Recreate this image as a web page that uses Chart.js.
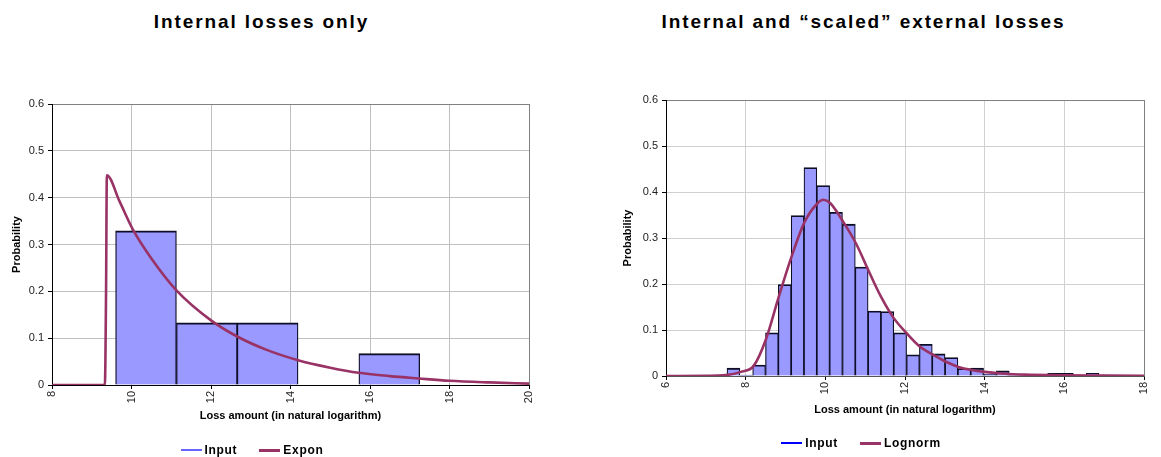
<!DOCTYPE html>
<html>
<head>
<meta charset="utf-8">
<title>Loss distributions</title>
<script src="https://cdn.jsdelivr.net/npm/chart.js@4"></script>
<style>
  body { margin: 0; background: #fff; }
  #wrap { position: relative; width: 1161px; height: 457px; font-family: 'Liberation Sans', Arial, sans-serif; color: #000; }
  canvas { position: absolute; top: 0; }
  .title { position: absolute; top: 12px; font-size: 19px; font-weight: bold; letter-spacing: 1.9px; line-height: 19px; text-align: center; white-space: nowrap; }
  .legend { position: absolute; display: flex; justify-content: center; align-items: center; font-size: 12px; font-weight: bold; letter-spacing: 0.7px; line-height: 14px; }
  .legend-item { display: flex; align-items: center; margin: 0 11px; }
  .legend-line { display: inline-block; width: 21px; margin-right: 3px; }
</style>
</head>
<body>
<div id="wrap">
  <div class="title" style="left:0; width:523px;">Internal losses only</div>
  <div class="title" style="left:580px; width:567px;">Internal and “scaled” external losses</div>

  <canvas id="chartInt" width="580" height="457" style="left:0;"></canvas>
  <canvas id="chartExt" width="581" height="457" style="left:580px;"></canvas>

  <div class="legend" id="legendInt" style="left:0; width:504px; top:443px;"></div>
  <div class="legend" id="legendExt" style="left:580px; width:562px; top:436px;"></div>
</div>

<script>
/* ---- Dados: perdas internas (histograma + ajuste exponencial) ---- */
const intBins = [10.365, 11.895, 13.425, 14.955, 16.485];   // centro de cada classe
const intProb = [0.329, 0.133, 0.133, 0, 0.067];
const exponX  = [8, 9.33, 9.36, 9.38, 9.7, 10.04, 10.5, 11.13, 12.0, 12.67, 13.4, 14.19, 15.0, 15.71, 16.5, 17.22, 18.0, 19.0, 20.0];
const exponY  = [0, 0, 0.2, 0.448, 0.392, 0.331, 0.27, 0.202, 0.138, 0.103, 0.075, 0.053, 0.037, 0.026, 0.019, 0.014, 0.009, 0.0055, 0.003];

/* ---- Dados: internas + externas escaladas (histograma + lognormal) ---- */
const extBins = [7.371, 7.693, 8.015, 8.337, 8.659, 8.981, 9.303, 9.625, 9.947, 10.269,
                 10.591, 10.913, 11.235, 11.557, 11.879, 12.201, 12.523, 12.845, 13.167, 13.489,
                 13.811, 14.133, 14.455, 14.777, 15.099, 15.421, 15.743, 16.065, 16.387, 16.709, 17.031];
const extProb = [0.002, 0.017, 0.002, 0.024, 0.094, 0.199, 0.349, 0.453, 0.414, 0.356,
                 0.330, 0.237, 0.141, 0.140, 0.094, 0.046, 0.069, 0.048, 0.040, 0.016,
                 0.017, 0.004, 0.011, 0.004, 0.001, 0, 0.006, 0.006, 0.001, 0.006, 0.002];
const lognX = [6, 7.0, 7.5, 7.88, 8.2, 8.51, 8.83, 9.15, 9.48, 9.8, 9.95, 10.12, 10.45, 10.77, 11.08, 11.24, 11.4, 11.7, 12.04, 12.37, 12.71, 13.03, 13.36, 13.67, 14.0, 14.5, 15.0, 16.0, 17.0, 18.0];
const lognY = [0, 0.0005, 0.002, 0.009, 0.022, 0.08, 0.172, 0.259, 0.335, 0.375, 0.383, 0.376, 0.335, 0.288, 0.23, 0.2, 0.172, 0.128, 0.093, 0.064, 0.046, 0.031, 0.019, 0.013, 0.009, 0.005, 0.003, 0.0015, 0.001, 0.0005];

/* ---- Eixos ---- */
const intXRange = [8, 20];
const extXRange = [6, 18];
const yRange    = [0, 0.6];
const xStep = 2;
const yStep = 0.1;

const xTitle = 'Loss amount (in natural logarithm)';
const yTitle = 'Probability';

const FONT = "'Liberation Sans', Arial, sans-serif";
const PLUM = '#993366';
const BAR_FILL = '#9999ff';
const BAR_EDGE = '#0d0d26';

const toPoints = (xs, ys) => xs.map((x, i) => ({ x, y: ys[i] }));

/* ---- Chart helper ---- */
function renderHist(canvasId, o) {
  const ctx = document.getElementById(canvasId);
  const gridColor = max => c => (c.tick && Math.abs(c.tick.value - max) < 1e-9) ? '#808080' : o.grid;

  return new Chart(ctx.getContext('2d'), {
    type: 'bar',
    data: {
      datasets: [
        {
          type: 'line',
          label: o.lineLabel,
          data: toPoints(o.lineX, o.lineY),
          borderColor: PLUM,
          borderWidth: 2.6,
          pointRadius: 0,
          cubicInterpolationMode: 'monotone',
          order: 0
        },
        {
          label: 'Input',
          data: toPoints(o.bins, o.probs),
          backgroundColor: BAR_FILL,
          borderColor: BAR_EDGE,
          borderWidth: o.barBorder,
          barPercentage: 1,
          categoryPercentage: 1,
          order: 1
        }
      ]
    },
    options: {
      responsive: false,
      animation: false,
      layout: { padding: o.padding },
      plugins: { legend: { display: false }, tooltip: { enabled: false }, title: { display: false } },
      scales: {
        x: {
          type: 'linear',
          min: o.xRange[0], max: o.xRange[1],
          offset: false,
          grid: { offset: false, color: gridColor(o.xRange[1]), tickColor: '#000', tickLength: 4 },
          border: { color: o.xAxisColor, width: 1 },
          ticks: {
            stepSize: xStep, autoSkip: false, maxRotation: 90, minRotation: 90, padding: 2,
            color: '#222', font: { family: FONT, size: 11 }
          },
          title: {
            display: true, text: xTitle, color: '#000',
            font: { family: FONT, size: 11, weight: 'bold' }, padding: { top: 2, bottom: 2 }
          },
          afterFit: s => { s.height = o.xHeight; }
        },
        y: {
          min: yRange[0], max: yRange[1],
          grid: { color: gridColor(yRange[1]), tickColor: '#000', tickLength: 4 },
          border: { color: '#000', width: 1 },
          ticks: { stepSize: yStep, padding: 4, color: '#222', font: { family: FONT, size: 11 } },
          title: {
            display: true, text: yTitle, color: '#000',
            font: { family: FONT, size: 11, weight: 'bold' }, padding: { top: o.yTitlePad, bottom: 0 }
          },
          afterFit: s => { s.width = o.yWidth; }
        }
      }
    }
  });
}

/* ---- Legenda customizada ---- */
function renderLegend(legendId, items) {
  document.getElementById(legendId).innerHTML = items.map(it => `
    <span class="legend-item">
      <span class="legend-line" style="height:${it.h}px; background:${it.color}"></span>${it.label}
    </span>`).join('');
}

renderHist('chartInt', {
  bins: intBins, probs: intProb, lineX: exponX, lineY: exponY, lineLabel: 'Expon',
  xRange: intXRange, grid: '#c0c0c0', xAxisColor: '#000',
  barBorder: { top: 2, left: 1.3, right: 1.3, bottom: 0 },
  padding: { left: 0, top: 104, right: 51, bottom: 32 },
  xHeight: 40, yWidth: 52, yTitlePad: 10
});

renderHist('chartExt', {
  bins: extBins, probs: extProb, lineX: lognX, lineY: lognY, lineLabel: 'Lognorm',
  xRange: extXRange, grid: '#d0d0d0', xAxisColor: '#555',
  barBorder: { top: 1.8, left: 1.2, right: 1.2, bottom: 0 },
  padding: { left: 30, top: 100, right: 17, bottom: 38 },
  xHeight: 43, yWidth: 56, yTitlePad: 11
});

renderLegend('legendInt', [
  { label: 'Input', color: '#6666ff', h: 2 },
  { label: 'Expon', color: PLUM, h: 3 }
]);
renderLegend('legendExt', [
  { label: 'Input', color: '#0000ff', h: 2 },
  { label: 'Lognorm', color: PLUM, h: 3 }
]);
</script>
</body>
</html>
